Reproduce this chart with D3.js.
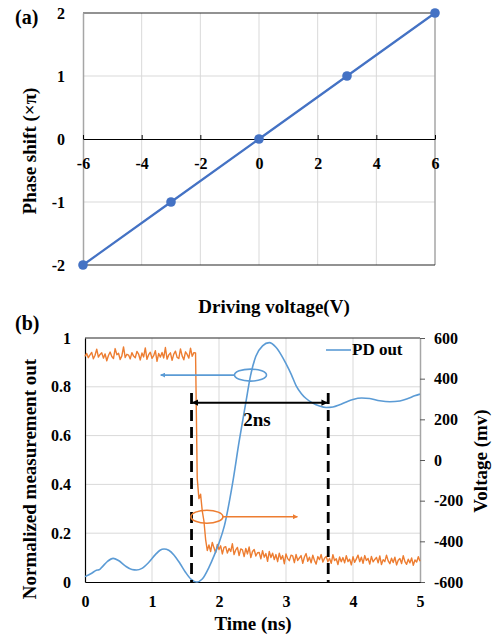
<!DOCTYPE html>
<html lang="en">
<head>
<meta charset="UTF-8">
<title>phase shift / PD out</title>
<style>
body{margin:0;background:#fff;}
svg text{font-weight:bold;fill:#000;}
</style>
</head>
<body>
<div class="chart"></div>
<script src="https://d3js.org/d3.v7.min.js"></script>
<script>
// ---- panel (a) data
var voltages = [-6, -3, 0, 3, 6];
var phases = [-2, -1, 0, 1, 2];
var aXTicks = [-6, -4, -2, 0, 2, 4, 6];
var aYTicks = [-2, -1, 0, 1, 2];

// ---- panel (b) data
var bXTicks = [0, 1, 2, 3, 4, 5];
var bLeftTicks = [0, 0.2, 0.4, 0.6, 0.8, 1];
var bRightTicks = [-600, -400, -200, 0, 200, 400, 600];

// smooth trace, read on the left (normalized) axis
var blueTime = [0,0.1,0.17,0.21,0.25,0.33,0.42,0.5,0.6,0.7,0.77,0.85,0.95,1.05,1.12,1.18,1.25,1.33,1.42,1.5,1.58,1.67,1.75,1.85,1.93,2.0,2.08,2.2,2.3,2.4,2.47,2.55,2.65,2.75,2.85,2.93,3.0,3.08,3.15,3.23,3.3,3.4,3.5,3.6,3.7,3.8,3.9,4.0,4.13,4.25,4.4,4.55,4.7,4.82,4.92,5.0];
var blueNorm = [0.022,0.036,0.048,0.05,0.06,0.083,0.097,0.088,0.066,0.051,0.049,0.056,0.08,0.112,0.13,0.135,0.13,0.11,0.075,0.04,0.012,0,0.012,0.06,0.11,0.16,0.23,0.4,0.575,0.735,0.845,0.925,0.968,0.981,0.962,0.93,0.895,0.85,0.805,0.772,0.752,0.733,0.721,0.715,0.717,0.726,0.738,0.748,0.754,0.752,0.743,0.739,0.742,0.752,0.763,0.77];

// PD out trace (mV, right axis), sampled every 25 ps from t = 0
var orangeStart = 0, orangeStep = 0.025;
var orangeMv = [
  510,524,503,517,529,498,515,545,506,519,
  527,501,522,488,514,531,509,499,548,518,
  525,494,512,556,504,520,516,497,528,511,
  503,534,521,492,526,507,551,495,518,530,
  500,513,538,485,524,506,529,502,553,496,
  517,527,490,521,535,505,499,546,512,493,
  532,519,501,550,510,528,
  526,-90,-190,-168,-250,-300,-390,-445,
  -418,-450,-405,-432,-456,-415,-440,-422,-462,-430,
  -426,-458,-435,-450,-412,-465,-442,-430,-470,-437,
  -442,-475,-435,-462,-428,-480,-450,-440,-472,-456,
  -455,-486,-446,-478,-460,-498,-450,-480,-458,-490,
  -465,-500,-458,-488,-470,-510,-462,-485,-495,-468,
  -472,-505,-465,-494,-482,-470,-508,-477,-460,-498,
  -478,-506,-468,-494,-512,-475,-490,-465,-502,-483,
  -474,-500,-484,-508,-466,-495,-486,-514,-477,-500,
  -480,-506,-471,-499,-488,-516,-476,-503,-486,-468,
  -500,-478,-508,-470,-494,-484,-512,-474,-501,-489,
  -479,-506,-472,-514,-490,-500,-468,-496,-510,-483,
  -504,-478,-516,-493,-484,-509,-471,-500,-513,-488,
  -506,-482,-518,-492,-502,-476,-498
];

// annotations (data coordinates)
var markTimes = [1.59, 3.63];
var markTop = 0.775;
var spanY = 0.735;
var blueRing = {t: 2.47, v: 0.848, arrowFrom: 2.23, arrowTo: 1.13};
var orangeRing = {t: 1.82, mv: -279, arrowFrom: 2.06, arrowTo: 3.17};

var blue = '#5B9BD5', orange = '#ED7D31', lineA = '#4472C4';
var grid = '#d9d9d9';
var serif = '"Liberation Serif", Tinos, "Times New Roman", "DejaVu Serif", serif';
var plain = d => String(d);

var svg = d3.select('.chart').append('svg')
  .attr('width', 494).attr('height', 639)
  .style('font-family', serif);

var defs = svg.append('defs');
function marker(id, color, orient) {
  defs.append('marker').attr('id', id)
    .attr('viewBox', '0 0 10 10').attr('refX', 9).attr('refY', 5)
    .attr('markerWidth', 3.2).attr('markerHeight', 3.2)
    .attr('markerUnits', 'strokeWidth')
    .attr('orient', orient)
    .append('path').attr('d', 'M0,0L10,5L0,10z').attr('fill', color);
}
marker('arrBlue', blue, 'auto');
marker('arrOrange', orange, 'auto');
marker('arrBlack', '#000', 'auto-start-reverse');

// ================= panel (a)
var ax = d3.scaleLinear().domain([-6, 6]).range([83, 435]);
var ay = d3.scaleLinear().domain([-2, 2]).range([265, 13]);
var ga = svg.append('g');

ga.selectAll('.vg').data(aXTicks.slice(1, -1)).enter().append('line')
  .attr('x1', d => ax(d)).attr('x2', d => ax(d))
  .attr('y1', ay(2)).attr('y2', ay(-2))
  .attr('stroke', grid);
ga.selectAll('.hg').data([-1, 1]).enter().append('line')
  .attr('x1', ax(-6)).attr('x2', ax(6))
  .attr('y1', d => ay(d)).attr('y2', d => ay(d))
  .attr('stroke', grid);
// frame
ga.append('line').attr('x1', ax(6)).attr('x2', ax(6)).attr('y1', ay(2)).attr('y2', ay(-2))
  .attr('stroke', '#a6a6a6').attr('stroke-width', 1.5);
ga.selectAll('.fr').data([-2, 2]).enter().append('line')
  .attr('x1', ax(-6)).attr('x2', ax(6))
  .attr('y1', d => ay(d)).attr('y2', d => ay(d))
  .attr('stroke', '#262626').attr('stroke-width', 1.2);

var ayAxis = ga.append('g').attr('transform', `translate(${ax(-6)},0)`)
  .call(d3.axisLeft(ay).tickValues(aYTicks).tickSize(0).tickPadding(18).tickFormat(plain));
ayAxis.select('.domain').attr('stroke', '#a6a6a6').attr('stroke-width', 1.5);

var axAxis = ga.append('g').attr('transform', `translate(0,${ay(0)})`)
  .call(d3.axisBottom(ax).tickValues(aXTicks).tickSizeInner(-4).tickSizeOuter(0).tickPadding(19).tickFormat(plain));
axAxis.select('.domain').attr('stroke', '#000').attr('stroke-width', 1.2);
axAxis.selectAll('.tick line').attr('stroke', '#000');

var pts = voltages.map((v, i) => [v, phases[i]]);
ga.append('path').datum(pts)
  .attr('fill', 'none').attr('stroke', lineA).attr('stroke-width', 2.2)
  .attr('d', d3.line().x(d => ax(d[0])).y(d => ay(d[1])));
ga.selectAll('.pt').data(pts).enter().append('circle')
  .attr('cx', d => ax(d[0])).attr('cy', d => ay(d[1])).attr('r', 4.8)
  .attr('fill', lineA);

ga.append('text').attr('x', 15).attr('y', 24).attr('font-size', 20).text('(a)');
ga.append('text').attr('transform', 'translate(36,151) rotate(-90)')
  .attr('text-anchor', 'middle').attr('font-size', 19).text('Phase shift (×π)');
ga.append('text').attr('x', 274).attr('y', 313)
  .attr('text-anchor', 'middle').attr('font-size', 19).text('Driving voltage(V)');

// ================= panel (b)
var bx = d3.scaleLinear().domain([0, 5]).range([85, 420]);
var byL = d3.scaleLinear().domain([0, 1]).range([582, 338]);
var byR = d3.scaleLinear().domain([-600, 600]).range([582, 338]);
var gb = svg.append('g');

gb.selectAll('.vg').data(bXTicks.slice(1, -1)).enter().append('line')
  .attr('x1', d => bx(d)).attr('x2', d => bx(d))
  .attr('y1', byL(1)).attr('y2', byL(0))
  .attr('stroke', grid);
gb.selectAll('.hg').data(bLeftTicks.slice(1, -1)).enter().append('line')
  .attr('x1', bx(0)).attr('x2', bx(5))
  .attr('y1', d => byL(d)).attr('y2', d => byL(d))
  .attr('stroke', grid);
gb.append('line').attr('x1', bx(0)).attr('x2', bx(5)).attr('y1', byL(1)).attr('y2', byL(1))
  .attr('stroke', '#262626').attr('stroke-width', 1.2);

var bLeft = gb.append('g').attr('transform', `translate(${bx(0)},0)`)
  .call(d3.axisLeft(byL).tickValues(bLeftTicks).tickSize(0).tickPadding(14).tickFormat(plain));
bLeft.select('.domain').attr('stroke', '#000').attr('stroke-width', 1.2);

var bRight = gb.append('g').attr('transform', `translate(${bx(5)},0)`)
  .call(d3.axisRight(byR).tickValues(bRightTicks).tickSizeInner(5).tickSizeOuter(0).tickPadding(9).tickFormat(plain));
bRight.select('.domain').attr('stroke', '#a6a6a6').attr('stroke-width', 1.5);
bRight.selectAll('.tick line').attr('stroke', '#595959');

var bBottom = gb.append('g').attr('transform', `translate(0,${byL(0)})`)
  .call(d3.axisBottom(bx).tickValues(bXTicks).tickSize(0).tickPadding(14).tickFormat(plain));
bBottom.select('.domain').attr('stroke', '#000').attr('stroke-width', 1.2);

// axis groups carry font-family="sans-serif"; override
svg.selectAll('.tick text').attr('font-size', 16).style('font-family', serif);

// orange trace
var orangePts = orangeMv.map((v, i) => [orangeStart + i * orangeStep, v]);
gb.append('path').datum(orangePts)
  .attr('fill', 'none').attr('stroke', orange).attr('stroke-width', 1.4)
  .attr('stroke-linejoin', 'round')
  .attr('d', d3.line().x(d => bx(d[0])).y(d => byR(d[1])));

// blue trace
var bluePts = blueTime.map((t, i) => [t, blueNorm[i]]);
gb.append('path').datum(bluePts)
  .attr('fill', 'none').attr('stroke', blue).attr('stroke-width', 1.6)
  .attr('d', d3.line().curve(d3.curveMonotoneX).x(d => bx(d[0])).y(d => byL(d[1])));

// dashed markers
gb.selectAll('.mk').data(markTimes).enter().append('line')
  .attr('x1', d => bx(d)).attr('x2', d => bx(d))
  .attr('y1', byL(markTop)).attr('y2', byL(0))
  .attr('stroke', '#000').attr('stroke-width', 2.8)
  .attr('stroke-dasharray', '11,6');
gb.append('line')
  .attr('x1', bx(markTimes[0]) + 1).attr('x2', bx(markTimes[1]) - 1)
  .attr('y1', byL(spanY)).attr('y2', byL(spanY))
  .attr('stroke', '#000').attr('stroke-width', 2)
  .attr('marker-start', 'url(#arrBlack)').attr('marker-end', 'url(#arrBlack)');
gb.append('text').attr('x', bx((markTimes[0] + markTimes[1]) / 2) - 3).attr('y', 426)
  .attr('text-anchor', 'middle').attr('font-size', 19).text('2ns');

// rings with arrows
gb.append('ellipse').attr('cx', bx(blueRing.t)).attr('cy', byL(blueRing.v))
  .attr('rx', 16).attr('ry', 6).attr('fill', 'none').attr('stroke', blue).attr('stroke-width', 1.6);
gb.append('line').attr('x1', bx(blueRing.arrowFrom)).attr('x2', bx(blueRing.arrowTo))
  .attr('y1', byL(blueRing.v)).attr('y2', byL(blueRing.v))
  .attr('stroke', blue).attr('stroke-width', 1.6).attr('marker-end', 'url(#arrBlue)');
gb.append('ellipse').attr('cx', bx(orangeRing.t)).attr('cy', byR(orangeRing.mv))
  .attr('rx', 16).attr('ry', 6.5).attr('fill', 'none').attr('stroke', orange).attr('stroke-width', 1.6);
gb.append('line').attr('x1', bx(orangeRing.arrowFrom)).attr('x2', bx(orangeRing.arrowTo))
  .attr('y1', byR(orangeRing.mv)).attr('y2', byR(orangeRing.mv))
  .attr('stroke', orange).attr('stroke-width', 1.6).attr('marker-end', 'url(#arrOrange)');

// legend
gb.append('line').attr('x1', 326).attr('x2', 351).attr('y1', 350).attr('y2', 350)
  .attr('stroke', blue).attr('stroke-width', 1.6);
gb.append('text').attr('x', 352).attr('y', 355).attr('font-size', 17).text('PD out');

// titles
gb.append('text').attr('x', 15).attr('y', 330).attr('font-size', 20).text('(b)');
gb.append('text').attr('transform', 'translate(36,479) rotate(-90)')
  .attr('text-anchor', 'middle').attr('font-size', 19).text('Normalized measurement out');
gb.append('text').attr('transform', 'translate(487,461) rotate(-90)')
  .attr('text-anchor', 'middle').attr('font-size', 19).text('Voltage (mv)');
gb.append('text').attr('x', 253).attr('y', 630)
  .attr('text-anchor', 'middle').attr('font-size', 19).text('Time (ns)');
</script>
</body>
</html>
